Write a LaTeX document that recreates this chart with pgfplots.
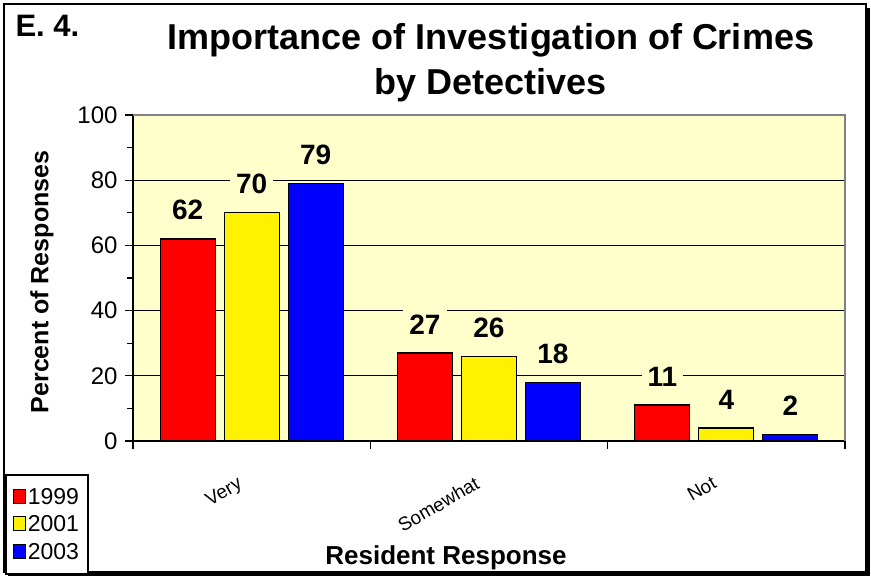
\documentclass[border=0pt]{standalone}
\usepackage{pgfplots}
\pgfplotsset{compat=1.18}
\usepackage{fontspec}
\setmainfont{Liberation Sans}
\definecolor{plotbg}{HTML}{FFFFCC}
\definecolor{edgegray}{HTML}{808080}

\begin{document}
\begin{tikzpicture}
\useasboundingbox (0pt,0pt) rectangle (871pt,578pt);
% outer frame with shadow
\fill[black] (866pt,2pt) rectangle (870pt,570pt);
\fill[black] (8pt,2pt) rectangle (870pt,6pt);
\draw[line width=2.5pt] (4pt,6pt) rectangle (866pt,574pt);

\begin{axis}[
  at={(133pt,137pt)}, anchor=south west,
  scale only axis, width=712pt, height=326pt,
  ybar=9pt, bar width=55pt,
  xmin=-0.5, xmax=2.5, ymin=0, ymax=100,
  xtick={-0.5,0.5,1.5,2.5}, xticklabels={},
  extra x ticks={0,1,2},
  extra x tick labels={Very,Somewhat,Not},
  extra x tick style={major tick length=0pt,
    xticklabel style={rotate=30, anchor=north east, font=\fontsize{19}{19}\selectfont, xshift=-27pt, yshift=-19pt}},
  ytick={0,20,...,100}, minor ytick={10,30,50,70,90},
  tick align=outside, major tick length=8pt, minor tick length=6pt,
  tick style={black, line width=1.3pt},
  axis x line*=bottom, axis y line*=left,
  axis line style={black, line width=1.5pt, -},
  ymajorgrids, y grid style={black, line width=1pt},
  axis background/.style={fill=plotbg},
  yticklabel style={font=\fontsize{24}{24}\selectfont, xshift=-4pt},
  /pgf/number format/assume math mode=true,
  clip=false,
  nodes near coords,
  every node near coord/.append style={font=\bfseries\fontsize{28}{28}\selectfont, fill=plotbg, inner sep=6pt, yshift=12pt, text=black},
  legend style={at={(-0.18,-0.411)}, anchor=south west, draw=black, line width=2pt,
    fill=white, font=\fontsize{23}{27}\selectfont, row sep=6pt, inner xsep=7pt, inner ysep=11pt},
  legend image code/.code={\draw[#1, line width=1pt] (0pt,-6pt) rectangle (12pt,8pt);},
  legend cell align=left,
]
\addplot[fill=red, draw=black, line width=1.3pt] coordinates {(0,62) (1,27) (2,11)};
\addplot[fill=yellow, draw=black, line width=1.3pt] coordinates {(0,70) (1,26) (2,4)};
\addplot[fill=blue, draw=black, line width=1.3pt] coordinates {(0,79) (1,18) (2,2)};
\legend{1999,2001,2003}
\draw[edgegray, line width=1.5pt] (rel axis cs:0,1) -- (rel axis cs:1,1) -- (rel axis cs:1,0);
\end{axis}

\node[anchor=base west, font=\bfseries\fontsize{31}{31}\selectfont] at (12pt,541pt) {E. 4.};
\node[anchor=base, font=\bfseries\fontsize{36}{36}\selectfont] at (491pt,528pt) {Importance of Investigation of Crimes};
\node[anchor=base, font=\bfseries\fontsize{36}{36}\selectfont] at (491pt,483pt) {by Detectives};
\node[rotate=90, font=\bfseries\fontsize{25}{25}\selectfont] at (42pt,296pt) {Percent of Responses};
\node[anchor=base, font=\bfseries\fontsize{26}{26}\selectfont] at (446pt,13pt) {Resident Response};
\end{tikzpicture}
\end{document}
